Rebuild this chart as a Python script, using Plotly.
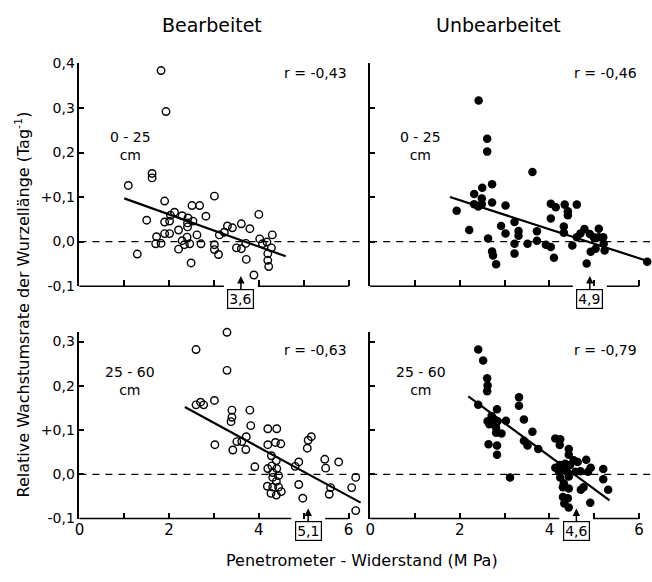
import plotly.graph_objects as go

W, H = 652, 582
FONT = "DejaVu Sans"

# ---------------- data ----------------
tl_x = [1.82, 1.93, 1.09, 1.62, 1.62, 1.90, 3.01, 1.50, 1.29, 2.03, 2.12, 1.90, 2.01, 1.90, 2.01,
        1.72, 1.70, 1.82, 2.29, 2.42, 2.41, 2.41, 2.53, 2.21, 2.51, 2.68, 2.82, 2.29, 2.40, 2.62,
        2.34, 2.46, 2.71, 2.21, 2.49, 3.12, 3.23, 3.30, 3.41, 3.01, 3.01, 3.10, 3.61, 3.80, 3.50,
        3.61, 3.71, 3.72, 3.89, 4.00, 4.02, 4.08, 4.18, 4.30, 4.28, 4.20, 4.20, 4.22]
tl_y = [0.384, 0.292, 0.126, 0.153, 0.143, 0.091, 0.102, 0.048, -0.028, 0.059, 0.066, 0.044, 0.046,
        0.018, 0.018, 0.011, -0.005, -0.004, 0.058, 0.053, 0.042, 0.033, 0.046, 0.026, 0.081, 0.081,
        0.057, 0.002, 0.010, 0.015, -0.007, -0.005, -0.005, -0.017, -0.048, 0.015, 0.021, 0.035,
        0.031, -0.007, -0.018, -0.029, 0.040, 0.029, -0.014, -0.016, -0.004, -0.040, -0.075, 0.061,
        0.006, -0.005, -0.001, 0.015, -0.014, -0.027, -0.042, -0.056]

tr_x = [2.42, 2.61, 2.61, 3.62, 1.93, 2.32, 2.50, 2.72, 2.32, 2.41, 2.49, 2.49, 2.72, 3.02, 2.21,
        2.63, 2.72, 2.74, 2.81, 2.92, 3.02, 3.22, 3.31, 3.31, 3.22, 3.22, 3.51, 3.72, 3.72, 3.92,
        4.03, 4.10, 4.03, 4.14, 4.03, 4.34, 4.41, 4.41, 4.61, 4.32, 4.32, 4.51, 4.61, 4.69, 4.78,
        4.90, 4.99, 5.10, 5.10, 5.20, 5.21, 5.23, 4.92, 5.03, 4.83, 6.18]
tr_y = [0.317, 0.231, 0.202, 0.156, 0.069, 0.107, 0.121, 0.129, 0.084, 0.079, 0.097, 0.084, 0.088,
        0.081, 0.026, 0.007, -0.022, -0.031, -0.051, 0.035, 0.018, 0.044, 0.024, 0.013, -0.005,
        -0.027, -0.005, 0.023, 0.002, -0.007, -0.012, -0.036, 0.085, 0.077, 0.052, 0.083, 0.068,
        0.059, 0.083, 0.034, 0.020, -0.009, 0.010, 0.018, 0.028, 0.017, 0.010, 0.029, 0.010, 0.010,
        -0.005, -0.020, -0.023, -0.016, -0.049, -0.045]

bl_x = [3.29, 2.60, 3.29, 3.01, 2.60, 2.70, 2.77, 3.40, 3.40, 3.38, 3.80, 3.82, 3.02, 3.42, 3.51,
        3.62, 3.72, 3.71, 3.91, 4.20, 4.40, 4.20, 4.37, 4.49, 4.28, 4.39, 4.20, 4.29, 4.40, 4.31,
        4.31, 4.44, 4.39, 4.19, 4.31, 4.44, 4.27, 4.39, 4.50, 4.81, 4.89, 4.89, 4.98, 5.08, 5.10,
        5.17, 5.47, 5.49, 5.78, 5.60, 5.57, 6.07, 6.16, 6.16]
bl_y = [0.321, 0.282, 0.235, 0.167, 0.157, 0.163, 0.157, 0.145, 0.129, 0.119, 0.145, 0.110, 0.067,
        0.055, 0.074, 0.074, 0.085, 0.056, 0.017, 0.103, 0.103, 0.067, 0.072, 0.069, 0.042, 0.031,
        0.013, 0.019, 0.013, 0.004, -0.007, -0.003, -0.016, -0.027, -0.029, -0.029, -0.043, -0.047,
        -0.039, 0.018, 0.028, -0.023, -0.054, 0.059, 0.077, 0.085, 0.034, 0.014, 0.028, -0.030,
        -0.045, -0.030, -0.007, -0.082]

br_x = [2.41, 2.52, 2.61, 2.62, 2.61, 2.41, 3.32, 3.32, 2.83, 2.71, 2.62, 2.73, 2.84, 2.66, 2.81,
        2.81, 2.93, 3.03, 3.43, 3.62, 3.43, 3.51, 3.75, 2.64, 2.83, 2.83, 3.12, 4.13, 4.24, 4.23,
        4.43, 4.43, 4.13, 4.24, 4.35, 4.21, 4.32, 4.46, 4.54, 4.63, 4.24, 4.43, 4.58, 4.69, 4.82,
        4.92, 4.86, 4.30, 4.43, 4.30, 4.41, 4.33, 4.43, 4.76, 4.70, 4.91, 5.20, 5.20, 5.31, 4.32, 4.39]
br_y = [0.282, 0.257, 0.217, 0.201, 0.188, 0.157, 0.174, 0.155, 0.147, 0.132, 0.120, 0.122, 0.120,
        0.113, 0.105, 0.094, 0.092, 0.121, 0.124, 0.096, 0.076, 0.065, 0.057, 0.068, 0.065, 0.044,
        -0.007, 0.081, 0.079, 0.066, 0.057, 0.044, 0.015, 0.021, 0.024, 0.007, 0.010, 0.021, 0.032,
        0.028, -0.007, -0.005, 0.006, 0.007, 0.033, 0.015, 0.006, -0.029, -0.032, -0.051, -0.054,
        -0.066, -0.075, -0.029, -0.035, -0.064, 0.012, -0.011, -0.035, -0.020, 0.006]

# regression lines (end points)
tl_fit_x, tl_fit_y = [1.0, 4.6], [0.097, -0.033]
tr_fit_x, tr_fit_y = [1.78, 6.17], [0.100, -0.043]
bl_fit_x, bl_fit_y = [2.35, 6.27], [0.152, -0.064]
br_fit_x, br_fit_y = [2.19, 5.34], [0.176, -0.059]

r_labels = ["r = -0,43", "r = -0,46", "r = -0,63", "r = -0,79"]
depth_labels = ["0 - 25<br>cm", "0 - 25<br>cm", "25 - 60<br>cm", "25 - 60<br>cm"]
marks = [3.6, 4.9, 5.1, 4.6]
mark_labels = ["3,6", "4,9", "5,1", "4,6"]
col_titles = ["Bearbeitet", "Unbearbeitet"]
x_tickvals = [0, 2, 4, 6]
x_ticktext = ["0", "2", "4", "6"]
y_tickvals = [-0.1, 0.0, 0.1, 0.2, 0.3, 0.4]
y_ticktext = ["-0,1", "0,0", "+0,1", "0,2", "0,3", "0,4"]
x_title = "Penetrometer - Widerstand (M Pa)"
y_title = "Relative Wachstumsrate der Wurzellänge (Tag<sup>-1</sup>)"

# ---------------- layout geometry (pixels) ----------------
col_x0 = [75, 368]
col_unit = [45.2, 45.17]
col_xmax = [6.32, 6.25]
row_pb = [286, 525]
row_pt = [57, 333]
row_yrange = [[-0.1, 0.4], [-0.1, 0.322]]
r_label_py = [67, 352]

panels = [
    (tl_x, tl_y, tl_fit_x, tl_fit_y, False, 0, 0),
    (tr_x, tr_y, tr_fit_x, tr_fit_y, True, 0, 1),
    (bl_x, bl_y, bl_fit_x, bl_fit_y, False, 1, 0),
    (br_x, br_y, br_fit_x, br_fit_y, True, 1, 1),
]

fig = go.Figure()
layout = dict(
    width=W, height=H, margin=dict(l=0, r=0, t=0, b=0),
    paper_bgcolor="white", plot_bgcolor="white", showlegend=False,
    font=dict(family=FONT, color="black", size=14),
)
shapes, annotations = [], []

for i, (px, py, fx, fy, filled, row, col) in enumerate(panels):
    n = "" if i == 0 else str(i + 1)
    xa, ya = "x" + n, "y" + n
    xmax = col_xmax[col]
    y0, y1 = row_yrange[row]
    xd = [col_x0[col] / W, (col_x0[col] + xmax * col_unit[col]) / W]
    yd = [1 - row_pb[row] / H, 1 - row_pt[row] / H]
    nt = 6 if row == 0 else 5

    layout["xaxis" + n] = dict(
        domain=xd, range=[0, xmax], anchor=ya, tickvals=x_tickvals,
        ticktext=x_ticktext, showticklabels=(row == 1),
        ticks="inside", ticklen=6, tickwidth=1.5, tickcolor="black",
        minor=dict(tickvals=[1, 3, 5], ticks="inside", ticklen=6, tickwidth=1.5,
                   tickcolor="black", showgrid=False),
        showline=False, showgrid=False, zeroline=False,
        tickfont=dict(size=15, family=FONT),
    )
    layout["yaxis" + n] = dict(
        domain=yd, range=[y0, y1], anchor=xa,
        tickvals=y_tickvals[:nt], ticktext=y_ticktext[:nt], showticklabels=(col == 0),
        ticks="inside", ticklen=5, tickwidth=1.5, tickcolor="black",
        showline=True, linewidth=1.5, linecolor="black",
        showgrid=False, zeroline=False, tickfont=dict(size=14, family=FONT),
    )

    # dashed zero line
    fig.add_trace(go.Scatter(x=[0, xmax], y=[0, 0], mode="lines", xaxis=xa, yaxis=ya,
                             line=dict(color="black", width=1.2, dash="7px,6px"),
                             hoverinfo="skip"))
    # regression line
    fig.add_trace(go.Scatter(x=fx, y=fy, mode="lines", xaxis=xa, yaxis=ya,
                             line=dict(color="black", width=2.2), hoverinfo="skip"))
    # points
    if filled:
        mk = dict(symbol="circle", size=8.5, color="black", line=dict(width=0))
    else:
        mk = dict(symbol="circle-open", size=7.5, color="black", line=dict(width=1.4))
    fig.add_trace(go.Scatter(x=px, y=py, mode="markers", xaxis=xa, yaxis=ya,
                             marker=mk, cliponaxis=False))

    # x axis line with gap around the marked value
    v = marks[i]
    gap = 0.38
    for a, b in [(0, v - gap), (v + gap, 6)]:
        shapes.append(dict(type="line", xref=xa + " domain", yref=ya + " domain",
                           x0=a / xmax, x1=b / xmax, y0=0, y1=0,
                           line=dict(color="black", width=1.5)))

    # r label
    ry = y0 + (row_pb[row] - r_label_py[row]) * (y1 - y0) / (row_pb[row] - row_pt[row])
    annotations.append(dict(xref=xa, yref=ya, x=6.0, y=ry,
                            text=r_labels[i], showarrow=False, xanchor="right", yanchor="middle",
                            font=dict(size=14, family=FONT)))
    # depth label
    annotations.append(dict(xref=xa, yref=ya, x=1.13, y=0.215 if row == 0 else 0.212,
                            text=depth_labels[i], showarrow=False, xanchor="center",
                            yanchor="middle", align="center",
                            font=dict(size=14, family=FONT)))
    # marked value box + arrow
    annotations.append(dict(xref=xa, yref=ya, x=v, y=-0.077, text=mark_labels[i],
                            showarrow=True, arrowhead=2, arrowsize=1, arrowwidth=1.5,
                            arrowcolor="black", ax=0, ay=23, standoff=0,
                            bordercolor="black", borderwidth=1.2, borderpad=1,
                            font=dict(size=14, family=FONT)))

# column titles
for t, cx in zip(col_titles, [209, 497]):
    annotations.append(dict(xref="paper", yref="paper", x=cx / W, y=1 - 17 / H, text=t,
                            xanchor="center", yanchor="middle",
                            showarrow=False, font=dict(size=19, family=FONT)))
# axis titles
annotations.append(dict(xref="paper", yref="paper", x=360 / W, y=1 - 568 / H,
                        xanchor="center", yanchor="middle",
                        text=x_title, showarrow=False, font=dict(size=16, family=FONT)))
annotations.append(dict(xref="paper", yref="paper", x=18 / W, y=1 - 305 / H,
                        xanchor="center", yanchor="middle",
                        text=y_title, textangle=-90, showarrow=False,
                        font=dict(size=16, family=FONT)))

layout["shapes"] = shapes
layout["annotations"] = annotations
fig.update_layout(**layout)
fig.write_html("out.html")
